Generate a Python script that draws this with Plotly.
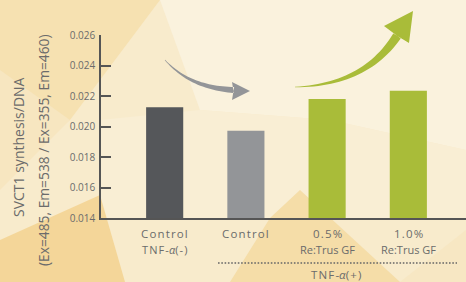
import numpy as np
import plotly.graph_objects as go

# ---- data ----
categories = [0, 1, 2, 3]
values = [0.02127, 0.01972, 0.02181, 0.02234]
bar_colors = ["#55575a", "#939598", "#a9bc39", "#a9bc39"]
HS = "\u200a"
def spaced(s):
    return HS.join(list(s))
label_line1 = [spaced("Control"), spaced("Control"), spaced("0.5%"), spaced("1.0%")]
label_line2 = [spaced("TNF-") + "<i>α</i>" + spaced("(-)"), "", "Re:Trus GF", "Re:Trus GF"]
y_ticks = [0.014, 0.016, 0.018, 0.020, 0.022, 0.024, 0.026]
y_title_1 = "SVCT1 synthesis/DNA"
y_title_2 = "(Ex=485, Em=538 / Ex=355, Em=460)"
group_label = spaced("TNF-") + "<i>α</i>" + spaced("(+)")

W, H = 466, 282
L, R, T, B = 101, 0, 35, 64
PW, PH = W - L - R, H - T - B

def px(x):
    return (x - L) / PW
def py(y):
    return (H - B - y) / PH

def poly_path(pts):
    s = "M " + " L ".join(f"{px(x):.4f},{py(y):.4f}" for x, y in pts) + " Z"
    return s

shapes = []
# background facets
facets = [
    ([(0, 0), (466, 0), (466, 282), (0, 282)], "#f8ebcc"),
    ([(0, 0), (160, 0), (70, 120), (0, 170)], "#f6e1b1"),
    ([(0, 70), (70, 120), (0, 190)], "#f7e6c0"),
    ([(160, 0), (466, 0), (466, 150), (330, 120), (200, 110)], "#faf2dd"),
    ([(100, 120), (200, 110), (330, 120), (466, 150), (466, 218), (100, 218)], "#f9eed4"),
    ([(0, 240), (100, 195), (125, 282), (0, 282)], "#f4d699"),
    ([(270, 218), (300, 190), (400, 282), (230, 282)], "#f5dda8"),
    ([(400, 282), (466, 230), (466, 282)], "#f7e7c3"),
]
for pts, col in facets:
    shapes.append(dict(type="path", xref="paper", yref="paper", path=poly_path(pts),
                       fillcolor=col, line=dict(width=0), layer="below"))

def curved_arrow(p0, p1, p2, w0, w1, tip, wing1, wing2, color):
    t = np.linspace(0, 1, 30)
    p0, p1, p2 = map(np.array, (p0, p1, p2))
    pts = ((1 - t)[:, None] ** 2) * p0 + (2 * (1 - t) * t)[:, None] * p1 + (t[:, None] ** 2) * p2
    d = np.gradient(pts, axis=0)
    n = np.stack([-d[:, 1], d[:, 0]], axis=1)
    n /= np.linalg.norm(n, axis=1)[:, None]
    w = (w0 + (w1 - w0) * t)[:, None] / 2
    left = pts + n * w
    right = pts - n * w
    poly = list(map(tuple, left)) + [wing1, tip, wing2] + list(map(tuple, right[::-1]))
    return dict(type="path", xref="paper", yref="paper", path=poly_path(poly),
                fillcolor=color, line=dict(width=0), layer="above")

shapes.append(curved_arrow((165, 60), (190, 88), (234, 90), 0.5, 6.0,
                           (250, 91), (232, 82), (232, 100), "#939598"))
shapes.append(curved_arrow((295, 87), (365, 85), (397, 36), 0.5, 9,
                           (413, 11), (384, 26), (409, 43), "#a9bc39"))

# dotted group line
shapes.append(dict(type="line", xref="paper", yref="paper",
                   x0=px(218), x1=px(457), y0=py(263), y1=py(263),
                   line=dict(color="#666666", width=1.6, dash="1.6px,1.7px")))

fig = go.Figure(go.Bar(x=categories, y=values, marker=dict(color=bar_colors, line=dict(width=0)),
                       width=0.457))

txt = "#6b6b6b"
def ann(text, x, y, xref="paper", size=11.5, angle=0):
    return dict(text=text, x=x, y=y, xref=xref, yref="paper", xanchor="center",
                yanchor="middle", textangle=angle, showarrow=False,
                font=dict(size=size, color=txt))

annotations = [
    ann(y_title_1, px(18), py(147), size=14, angle=-90),
    ann(y_title_2, px(43), py(150), size=13.8, angle=-90),
    ann(group_label, px(336), py(274.5), size=11.5),
]
for c, l1, l2 in zip(categories, label_line1, label_line2):
    annotations.append(ann(l1, c, py(233), xref="x", size=11.5))
    if l2:
        annotations.append(ann(l2, c, py(249.5), xref="x", size=11))

fig.update_layout(
    width=W, height=H,
    margin=dict(l=L, r=R, t=T, b=B),
    paper_bgcolor="#f8ebcc",
    plot_bgcolor="rgba(0,0,0,0)",
    showlegend=False,
    shapes=shapes,
    font=dict(family="Open Sans", color=txt),
    xaxis=dict(range=[-0.784, 3.71], showticklabels=False,
               showline=True, linecolor="#555555", linewidth=1.5, ticks="",
               showgrid=False, zeroline=False),
    yaxis=dict(range=[0.014, 0.026], tickvals=y_ticks, tickformat=".3f",
               showline=True, linecolor="#555555", linewidth=1.5,
               ticks="inside", ticklen=10, tickwidth=1.5, tickcolor="#555555",
               ticklabelstandoff=2,
               showgrid=False, zeroline=False, tickfont=dict(size=10, color=txt)),
    annotations=annotations,
)
fig.write_html("out.html", config={"displayModeBar": False},
               post_script="document.body.style.margin='0px';document.body.style.overflow='hidden';")
